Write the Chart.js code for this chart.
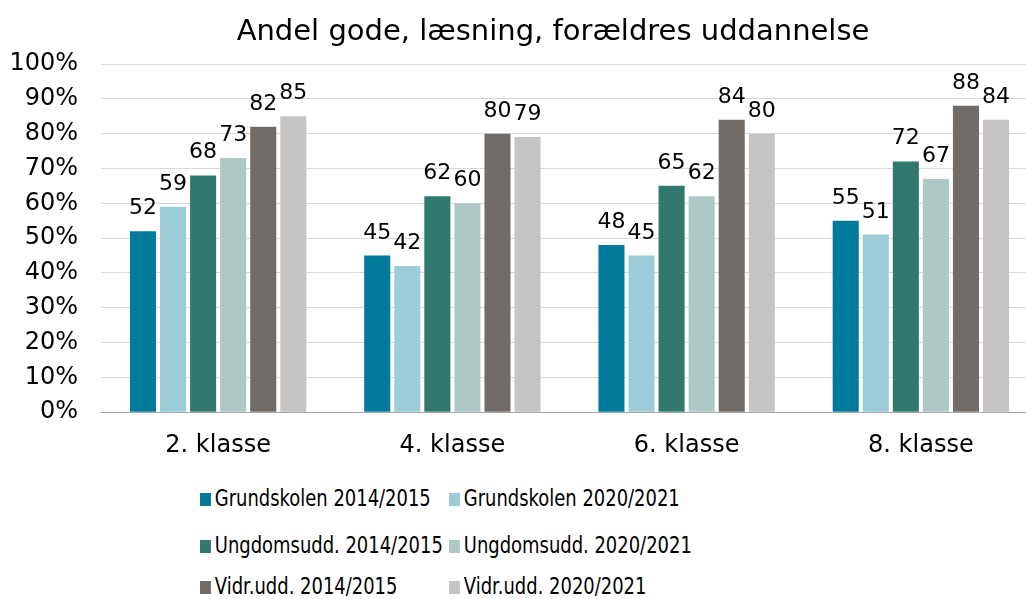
<!DOCTYPE html>
<html>
<head>
<meta charset="utf-8">
<script src="https://cdn.jsdelivr.net/npm/chart.js@4"></script>
<style>
  html, body { margin: 0; padding: 0; background: #fff; overflow: hidden; width: 1026px; height: 599px; }
  #wrap { position: relative; width: 1026px; height: 599px; overflow: hidden; font-family: "DejaVu Sans", sans-serif; color: #000; }
  #chart { position: absolute; left: 0; top: 0; }
  #title { position: absolute; top: 16px; left: 553px; transform: translateX(-50%); font-size: 29px; line-height: 29px; white-space: nowrap; }
  .leg { position: absolute; font-size: 23px; line-height: 23px; white-space: nowrap; transform: scaleX(0.78); transform-origin: left top; }
  .leg i { display: inline-block; width: 14px; height: 13px; margin-right: 5px; vertical-align: baseline; }
</style>
</head>
<body>
<div id="wrap">
  <canvas id="chart" width="1040" height="475"></canvas>
  <div id="title">Andel gode, læsning, forældres uddannelse</div>
  <div id="legend"></div>
</div>
<script>
document.addEventListener('DOMContentLoaded', ()=>{
    const categories = ['2. klasse', '4. klasse', '6. klasse', '8. klasse'];
    const seriesNames = ['Grundskolen 2014/2015', 'Grundskolen 2020/2021', 'Ungdomsudd. 2014/2015', 'Ungdomsudd. 2020/2021', 'Vidr.udd. 2014/2015', 'Vidr.udd. 2020/2021'];
    const grund1415 = [52, 45, 48, 55];
    const grund2021 = [59, 42, 45, 51];
    const ungd1415 = [68, 62, 65, 72];
    const ungd2021 = [73, 60, 62, 67];
    const vidr1415 = [82, 80, 84, 88];
    const vidr2021 = [85, 79, 80, 84];
    const colors = ['#00799A', '#9ECBD8', '#31796D', '#AEC9C5', '#716C68', '#C6C5C4'];

    const allValues = [grund1415, grund2021, ungd1415, ungd2021, vidr1415, vidr2021];

    //etiquettes de valeur au-dessus des barres
    const valueLabels = {
        id: 'valueLabels',
        afterDatasetsDraw(chart){
            const ctx = chart.ctx;
            ctx.save();
            ctx.font = '22px "DejaVu Sans"';
            ctx.fillStyle = '#000';
            ctx.textAlign = 'center';
            ctx.textBaseline = 'alphabetic';
            chart.data.datasets.forEach((ds, i)=>{
                chart.getDatasetMeta(i).data.forEach((bar, j)=>{
                    ctx.fillText(String(ds.data[j]), bar.x, bar.y - 17);
                });
            });
            ctx.restore();
        }
    };

    new Chart(document.getElementById('chart').getContext('2d'), {
        type: 'bar',
        data: {
            labels: categories,
            datasets: allValues.map((vals, i)=>({
                label: seriesNames[i],
                data: vals,
                backgroundColor: colors[i],
                borderWidth: 0,
                categoryPercentage: 0.77,
                barPercentage: 0.867
            }))
        },
        options: {
            responsive: false,
            animation: false,
            layout: { padding: { top: 64, left: 0, right: 2, bottom: 4 } },
            plugins: {
                legend: { display: false },
                title: { display: false },
                tooltip: { enabled: false }
            },
            scales: {
                x: {
                    grid: { display: false },
                    border: { display: true, color: '#A6A6A6', width: 1 },
                    ticks: { color: '#000', font: { family: 'DejaVu Sans', size: 24 }, padding: 11 }
                },
                y: {
                    min: 0,
                    max: 100,
                    grid: { color: '#D9D9D9', drawTicks: false },
                    border: { display: false },
                    afterFit(scale){ scale.width = 101; },
                    ticks: {
                        stepSize: 10,
                        color: '#000',
                        padding: 23,
                        font: { family: 'DejaVu Sans', size: 24 },
                        callback: v => v + '%'
                    }
                }
            }
        },
        plugins: [valueLabels]
    });

    //légende en deux colonnes
    const legend = document.getElementById('legend');
    const legTops = [487, 534, 575];
    const legLefts = [200, 449];
    seriesNames.forEach((name, i)=>{
        const item = document.createElement('div');
        item.className = 'leg';
        item.style.left = legLefts[i % 2] + 'px';
        item.style.top = legTops[Math.floor(i / 2)] + 'px';
        item.innerHTML = '<i style="background:' + colors[i] + '"></i>' + name;
        legend.appendChild(item);
    });
});
</script>
</body>
</html>
